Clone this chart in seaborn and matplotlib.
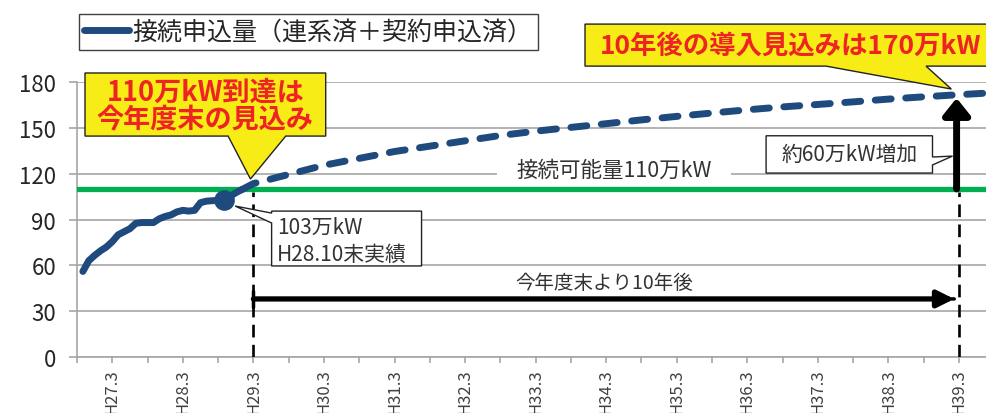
import matplotlib
matplotlib.use("Agg")
import matplotlib.pyplot as plt
import seaborn as sns
import pandas as pd
from matplotlib.patches import Polygon
from matplotlib.lines import Line2D

# x = months counted from H26.9 (Sept 2014)
actual_months = [1, 2, 3, 4, 5, 6, 7, 8, 9, 10, 11, 12, 13, 14, 15, 16, 17, 18,
                 19, 20, 21, 22, 23, 24, 25, 26, 27, 28]
actual_values = [56, 63, 66.5, 69.5, 72, 75.5, 80, 82, 84, 87.5, 88, 88, 88, 90.5,
                 92, 93, 95, 96, 95.5, 96, 101, 102, 102.3, 102.5, 103, 105, 107.5, 109.5]
projection_months = [28, 30, 36, 42, 48, 54, 60, 66, 72, 78, 84, 90, 96, 102, 108,
                     114, 120, 126, 132, 138, 144, 150, 156]
projection_values = [109.5, 113.5, 119.5, 125.5, 130, 134.5, 138, 141.5, 145, 147.8,
                     150.3, 152.7, 155.2, 157.5, 159.7, 161.8, 163.7, 165.3, 167, 168.8,
                     170.3, 171.7, 173]
latest_month = 25
latest_value = 103
capacity_value = 110
fiscal_end_month = 30
target_month = 150
target_value = 170
tick_months = [6, 18, 30, 42, 54, 66, 78, 90, 102, 114, 126, 138, 150]
tick_labels = ["H27.3", "H28.3", "H29.3", "H30.3", "H31.3", "H32.3", "H33.3",
               "H34.3", "H35.3", "H36.3", "H37.3", "H38.3", "H39.3"]
minor_tick_months = [0, 12, 24, 36, 48, 60, 72, 84, 96, 108, 120, 132, 144]
y_ticks = [0, 30, 60, 90, 120, 150, 180]

legend_label = "接続申込量（連系済＋契約申込済）"

sns.set_theme(style="white")
plt.rcParams["font.family"] = ["Noto Sans CJK JP", "DejaVu Sans"]

BLUE = "#1F4A7E"
GREEN = "#00B050"
YELLOW = "#F8EC16"
RED = "#EE2424"
GRID = "#A6A6A6"
TXT = "#333333"

W, H = 986, 414
fig = plt.figure(figsize=(W / 100, H / 100), dpi=100)
ax = fig.add_axes([77 / W, 56 / H, 909 / W, 275 / H])
ax.set_xlim(0, 154.6)
ax.set_ylim(0, 180)

# grid / spines
ax.set_axisbelow(True)
ax.yaxis.grid(True, color=GRID, lw=1.2, zorder=0)
ax.xaxis.grid(False)
for s in ["top", "right"]:
    ax.spines[s].set_visible(False)
for s in ["left", "bottom"]:
    ax.spines[s].set_visible(True)
    ax.spines[s].set_color(GRID)
    ax.spines[s].set_linewidth(1.2)

ax.set_yticks(y_ticks)
ax.set_yticklabels([str(v) for v in y_ticks])
ax.tick_params(axis="y", direction="out", length=6, width=1.2, color=GRID,
               labelsize=16, labelcolor="#262626", pad=9, left=True)
ax.set_xticks(tick_months)
ax.set_xticklabels(tick_labels, rotation=90, va="top", ha="center")
ax.set_xticks(minor_tick_months, minor=True)
ax.tick_params(axis="x", which="both", direction="out", length=4, width=1.2,
               color=GRID, labelsize=12, labelcolor="#404040", pad=4, bottom=True)

# capacity line
ax.axhline(capacity_value, color=GREEN, lw=3.8, zorder=3)

# data
df_actual = pd.DataFrame({"month": actual_months, "value": actual_values})
df_proj = pd.DataFrame({"month": projection_months, "value": projection_values})
sns.lineplot(data=df_actual, x="month", y="value", ax=ax, color=BLUE, lw=5,
             solid_capstyle="round", solid_joinstyle="round", zorder=4, legend=False)
sns.lineplot(data=df_proj, x="month", y="value", ax=ax, color=BLUE, lw=5,
             linestyle=(0, (2.3, 2.1)), dash_capstyle="round", zorder=4, legend=False)
sns.scatterplot(x=[latest_month], y=[latest_value], ax=ax, color=BLUE, s=190,
                edgecolor=BLUE, zorder=5, legend=False)
ax.set_xlabel("")
ax.set_ylabel("")

# vertical dashed guide lines
ax.vlines([fiscal_end_month, target_month], 0, 108, colors="black", lw=1.9,
          linestyles=(0, (4.8, 2.8)), zorder=3)

# text on capacity gridline
ax.text(91.3, 122.4, "接続可能量110万kW", fontsize=15.5, color=TXT, ha="center",
        va="center", zorder=1.5,
        bbox=dict(boxstyle="square,pad=0.9", fc="white", ec="none"))

# horizontal period arrow
ax.annotate("", xy=(149.2, 38), xytext=(fiscal_end_month, 38),
            arrowprops=dict(arrowstyle="-|>,head_length=0.5,head_width=0.25",
                            lw=3.8, color="black", shrinkA=0, shrinkB=0,
                            mutation_scale=20), zorder=6)
ax.annotate("", xy=(149.2, 38), xytext=(fiscal_end_month, 38),
            arrowprops=dict(arrowstyle="]-,widthA=0.3,lengthA=0",
                            lw=2.5, color="black", shrinkA=0, shrinkB=0,
                            mutation_scale=20), zorder=6)
ax.text(89.7, 49, "今年度末より10年後", fontsize=14, color=TXT, ha="center", va="center")

# vertical increase arrow
ax.annotate("", xy=(target_month - 0.4, target_value - 0.5),
            xytext=(target_month - 0.4, capacity_value),
            arrowprops=dict(arrowstyle="-|>,head_length=0.5,head_width=0.4",
                            lw=5, color="black", shrinkA=0, shrinkB=0,
                            mutation_scale=20), zorder=6)

# white callout: 103万kW
p = Polygon([(33.1, 95.5), (58.6, 95.5), (58.6, 59.6), (33.1, 59.6), (33.1, 87.7),
             (26.9, 98.8), (33.1, 94.2)], closed=True, fc="white", ec="#222222",
            lw=1.0, zorder=7, clip_on=False)
ax.add_patch(p)
ax.text(34.0, 85.0, "103万kW", fontsize=15, color=TXT, ha="left", va="center", zorder=8)
ax.text(34.0, 67.5, "H28.10末実績", fontsize=15, color=TXT, ha="left", va="center", zorder=8)

# white callout: 約60万kW増加
p = Polygon([(117.2, 144.8), (145.5, 144.8), (145.5, 130.9), (148.9, 131.5),
             (145.5, 125.7), (145.5, 120.4), (117.2, 120.4)], closed=True,
            fc="white", ec="#222222", lw=1.0, zorder=7, clip_on=False)
ax.add_patch(p)
ax.text(131.4, 132.8, "約60万kW増加", fontsize=15, color=TXT, ha="center", va="center", zorder=8)

# yellow callout 1
p = Polygon([(1.36, 185.9), (42.3, 185.9), (42.3, 144.6), (35.5, 144.6), (29.5, 116.5),
             (25.7, 144.6), (1.36, 144.6)], closed=True, fc=YELLOW, ec="#222222",
            lw=1.0, zorder=9, clip_on=False)
ax.add_patch(p)
ax.text(21.8, 164.5, "110万kW到達は\n今年度末の見込み", fontsize=19.5, fontweight="bold",
        color=RED, ha="center", va="center", linespacing=0.98, zorder=10)

# yellow callout 2
p = Polygon([(86.4, 217.9), (175, 217.9), (175, 190.4), (144.4, 190.4), (148.7, 175.4),
             (127.4, 190.4), (86.4, 190.4)], closed=True, fc=YELLOW, ec="#222222",
            lw=1.0, zorder=9, clip_on=False)
ax.add_patch(p)
ax.text(121.4, 203.8, "10年後の導入見込みは170万kW", fontsize=19, fontweight="bold",
        color=RED, ha="center", va="center", zorder=10)

# legend
handle = Line2D([], [], color=BLUE, lw=5, solid_capstyle="round")
leg = fig.legend([handle], [legend_label], loc="upper left",
                 bbox_to_anchor=(79 / W, 1 - 15 / H), bbox_transform=fig.transFigure,
                 borderaxespad=0, borderpad=0.2, handlelength=1.8, handletextpad=0.15,
                 fontsize=18, frameon=True, fancybox=False, framealpha=1)
leg.get_frame().set_edgecolor("#404040")
leg.get_frame().set_linewidth(1.0)
for t in leg.get_texts():
    t.set_color("#262626")

fig.savefig("out.png", dpi=100)
